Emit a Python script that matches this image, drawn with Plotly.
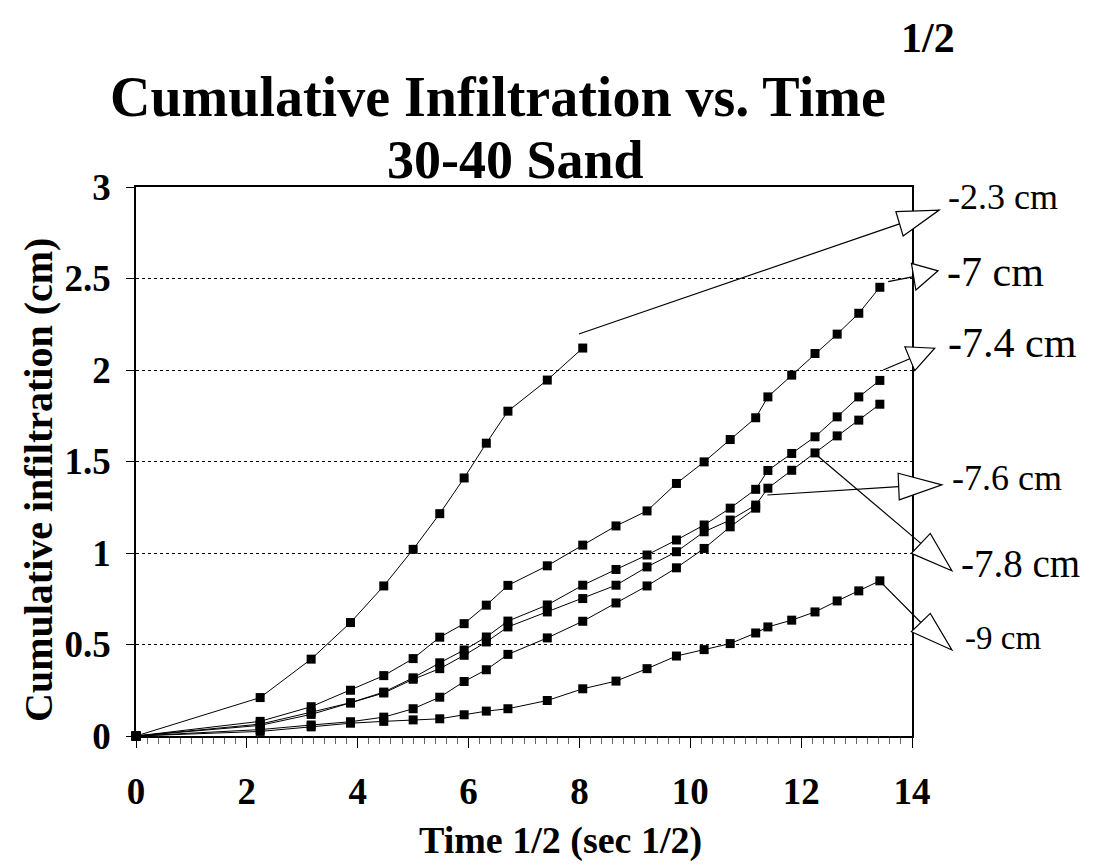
import plotly.graph_objects as go

# square-root of elapsed time (sec^1/2) at each reading
time_sqrt = [0, 2.24, 3.16, 3.87, 4.47, 5.0, 5.48, 5.92, 6.32, 6.71, 7.42, 8.06,
             8.66, 9.22, 9.75, 10.25, 10.72, 11.18, 11.4, 11.83, 12.25, 12.65,
             13.04, 13.42]

# cumulative infiltration (cm) for each supply pressure head
infil_m2_3 = [0, 0.21, 0.42, 0.62, 0.82, 1.02, 1.215, 1.41, 1.60, 1.775, 1.945, 2.12]
infil_m7_0 = [0, 0.08, 0.16, 0.25, 0.33, 0.423, 0.54, 0.614, 0.715, 0.823, 0.93, 1.043,
              1.148, 1.23, 1.38, 1.498, 1.62, 1.739, 1.853, 1.972, 2.09, 2.196, 2.31, 2.452]
infil_m7_4 = [0, 0.065, 0.13, 0.182, 0.24, 0.318, 0.40, 0.47, 0.541, 0.628, 0.716, 0.824,
              0.91, 0.989, 1.071, 1.153, 1.245, 1.348, 1.451, 1.544, 1.635, 1.744, 1.853, 1.943]
infil_m7_6 = [0, 0.035, 0.06, 0.078, 0.103, 0.149, 0.212, 0.298, 0.362, 0.446, 0.536, 0.627,
              0.727, 0.82, 0.919, 1.025, 1.143, 1.245]
infil_m7_8 = [0, 0.058, 0.118, 0.18, 0.235, 0.31, 0.368, 0.441, 0.514, 0.596, 0.678, 0.751,
              0.824, 0.924, 1.007, 1.116, 1.18, 1.262, 1.354, 1.452, 1.547, 1.64, 1.726, 1.813]
infil_m9_0 = [0, 0.025, 0.05, 0.07, 0.08, 0.088, 0.094, 0.116, 0.136, 0.149, 0.194, 0.258,
              0.30, 0.368, 0.437, 0.472, 0.505, 0.563, 0.596, 0.633, 0.678, 0.738, 0.793, 0.848]

series_names = ["-2.3 cm", "-7 cm", "-7.4 cm", "-7.6 cm", "-7.8 cm", "-9 cm"]
series_values = [infil_m2_3, infil_m7_0, infil_m7_4, infil_m7_6, infil_m7_8, infil_m9_0]

x_ticks = [0, 2, 4, 6, 8, 10, 12, 14]
y_ticks = [0, 0.5, 1, 1.5, 2, 2.5, 3]
y_tick_text = ["0", "0.5", "1", "1.5", "2", "2.5", "3"]
x_range = [0, 14]
y_range = [0, 3]

# callout arrows: tail point, then hollow arrowhead (base corner, tip, base corner), in data units
callouts = [
    ("-2.3 cm", (7.99, 2.197), (13.71, 2.865), (14.49, 2.874), (13.84, 2.732)),
    ("-7 cm",   (13.57, 2.483), (13.99, 2.583), (14.47, 2.542), (14.07, 2.437)),
    ("-7.4 cm", (13.48, 2.0),  (13.87, 2.127), (14.41, 2.119), (14.05, 1.996)),
    ("-7.6 cm", (11.39, 1.317), (13.75, 1.436), (14.54, 1.372), (13.77, 1.29)),
    ("-7.8 cm", (12.23, 1.548), (13.99, 0.998), (14.72, 0.903), (14.33, 1.107)),
    ("-9 cm",   (13.41, 0.849), (13.99, 0.570), (14.72, 0.470), (14.33, 0.670)),
]
# callout text: left edge x (px), centre y (px), font size
callout_text = {
    "-2.3 cm": (946, 197, 36),
    "-7 cm":   (945, 272, 42),
    "-7.4 cm": (946, 343, 42),
    "-7.6 cm": (950, 478, 36),
    "-7.8 cm": (959, 563, 39),
    "-9 cm":   (963, 638, 33),
}

W, H = 1102, 865
PL, PR, PT, PB = 136, 912, 187, 736  # plot area edges in px
SERIF = "Times New Roman, Liberation Serif, serif"


def px2paper(px, py):
    return (px - PL) / (PR - PL), (PB - py) / (PB - PT)


def data2paper(x, y):
    return ((x - x_range[0]) / (x_range[1] - x_range[0]),
            (y - y_range[0]) / (y_range[1] - y_range[0]))


fig = go.Figure()
for name, vals in zip(series_names, series_values):
    fig.add_trace(go.Scatter(
        x=time_sqrt[:len(vals)], y=vals, name=name, mode="lines+markers",
        line=dict(color="black", width=1),
        marker=dict(symbol="square", size=9, color="black"),
        cliponaxis=False, showlegend=False,
    ))

shapes = []
for name, tail, b1, tip, b2 in callouts:
    mx, my = (b1[0] + b2[0]) / 2, (b1[1] + b2[1]) / 2
    tx, ty = data2paper(*tail)
    ex, ey = data2paper(mx, my)
    shapes.append(dict(type="line", xref="paper", yref="paper",
                       x0=tx, y0=ty, x1=ex, y1=ey,
                       line=dict(color="black", width=1.2)))
    p = [data2paper(*b1), data2paper(*tip), data2paper(*b2)]
    path = "M {} {} L {} {} L {} {} Z".format(p[0][0], p[0][1], p[1][0], p[1][1], p[2][0], p[2][1])
    shapes.append(dict(type="path", xref="paper", yref="paper", path=path,
                       fillcolor="white", line=dict(color="black", width=1.2)))

annotations = []
for name, (lx, ly, fs) in callout_text.items():
    ax_, ay_ = px2paper(lx, ly)
    annotations.append(dict(text=name, x=ax_, y=ay_, xref="paper", yref="paper",
                            xanchor="left", yanchor="middle", showarrow=False,
                            font=dict(family=SERIF, size=fs, color="black")))


def add_text(text, px, py, size, anchor="center", angle=0):
    ax_, ay_ = px2paper(px, py)
    annotations.append(dict(text=text, x=ax_, y=ay_, xref="paper", yref="paper",
                            xanchor=anchor, yanchor="middle", showarrow=False,
                            textangle=angle,
                            font=dict(family=SERIF, size=size, color="black")))


add_text("<b>Cumulative Infiltration vs. Time</b>", 498, 97, 56)
add_text("<b>1/2</b>", 928, 38, 42)
add_text("<b>30-40 Sand</b>", 515, 160, 54)
add_text("<b>Time 1/2 (sec 1/2)</b>", 560, 840, 38)
add_text("<b>Cumulative infiltration (cm)</b>", 38, 480, 40, angle=-90)

fig.update_layout(
    width=W, height=H,
    margin=dict(l=PL, r=W - PR, t=PT, b=H - PB, pad=0),
    paper_bgcolor="white", plot_bgcolor="white",
    shapes=shapes, annotations=annotations,
    xaxis=dict(range=x_range, tickvals=x_ticks, ticktext=[str(v) for v in x_ticks],
               showgrid=False, zeroline=False,
               showline=True, linecolor="black", linewidth=1.5, mirror=True,
               ticks="outside", ticklen=10, tickwidth=1, tickcolor="black",
               minor=dict(dtick=0.2, ticks="outside", ticklen=6, tickcolor="#666", tickwidth=1),
               ticklabelstandoff=12,
               tickfont=dict(family=SERIF, size=37, color="black", weight="bold")),
    yaxis=dict(range=y_range, tickvals=y_ticks, ticktext=y_tick_text,
               showgrid=True, gridcolor="black", griddash="dot", gridwidth=1,
               zeroline=False,
               showline=True, linecolor="black", linewidth=1.5, mirror=True,
               ticks="outside", ticklen=8, tickwidth=1, tickcolor="black",
               ticklabelstandoff=8,
               tickfont=dict(family=SERIF, size=37, color="black", weight="bold")),
)

fig.write_html("out.html")
